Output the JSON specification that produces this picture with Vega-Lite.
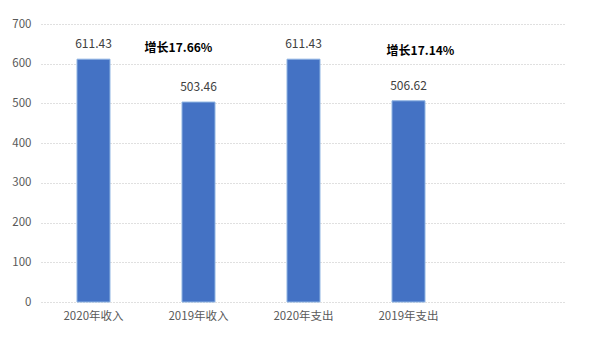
{
  "$schema": "https://vega.github.io/schema/vega-lite/v6.json",
  "autosize": "none",
  "width": 525,
  "height": 278,
  "padding": {"left": 41, "top": 24, "right": 30, "bottom": 46},
  "background": "white",
  "config": {
    "view": {"stroke": null},
    "font": "Noto Sans CJK SC"
  },
  "datasets": {
    "bars": [
      {"item": "2020年收入", "value": 611.43},
      {"item": "2019年收入", "value": 503.46},
      {"item": "2020年支出", "value": 611.43},
      {"item": "2019年支出", "value": 506.62}
    ],
    "note1": [
      {"item": "2019年收入", "value": 640, "text": "增长17.66%"}
    ],
    "note2": [
      {"item": "2019年支出", "value": 632, "text": "增长17.14%"}
    ]
  },
  "encoding": {
    "x": {
      "field": "item",
      "type": "nominal",
      "sort": null,
      "scale": {"domain": ["2020年收入", "2019年收入", "2020年支出", "2019年支出", " "], "paddingInner": 0.686, "paddingOuter": 0.343},
      "axis": {"title": null, "labelAngle": 0, "ticks": false, "domain": false, "labelPadding": 8, "labelFontSize": 11.5, "labelColor": "#595959", "labelFont": "Noto Sans CJK SC"}
    },
    "y": {
      "field": "value",
      "type": "quantitative",
      "scale": {"domain": [0, 700], "nice": false},
      "axis": {"title": null, "tickCount": 20, "values": [0, 100, 200, 300, 400, 500, 600, 700], "labelOverlap": false, "labelBound": false, "ticks": false, "domain": false, "labelPadding": 10, "labelFontSize": 11.5, "labelColor": "#595959", "gridColor": "#c0c0c0", "gridDash": [1, 2], "gridWidth": 1}
    }
  },
  "layer": [
    {
      "data": {"name": "bars"},
      "mark": {"type": "bar", "color": "#4472C4", "stroke": "#8db3e2", "strokeWidth": 1}
    },
    {
      "data": {"name": "bars"},
      "mark": {"type": "text", "baseline": "bottom", "dy": -8, "fontSize": 12, "color": "#404040"},
      "encoding": {
        "text": {"field": "value", "type": "quantitative", "format": ".2f"}
      }
    },
    {
      "data": {"name": "note1"},
      "mark": {"type": "text", "baseline": "middle", "fontSize": 12, "fontWeight": "bold", "color": "#000000", "dx": -20},
      "encoding": {
        "text": {"field": "text"}
      }
    },
    {
      "data": {"name": "note2"},
      "mark": {"type": "text", "baseline": "middle", "fontSize": 12, "fontWeight": "bold", "color": "#000000", "dx": 12},
      "encoding": {
        "text": {"field": "text"}
      }
    }
  ]
}
